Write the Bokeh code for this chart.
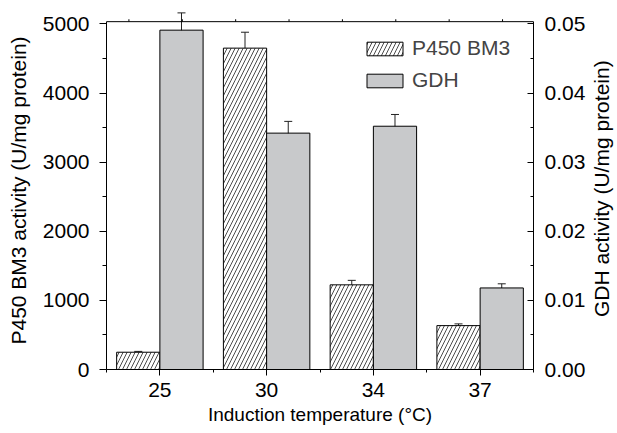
import math
import numpy as np
from bokeh.plotting import figure
from bokeh.layouts import row
from bokeh.models import (Range1d, LinearAxis, FixedTicker, Whisker, TeeHead,
                          ColumnDataSource, Legend, LegendItem, NumeralTickFormatter,
                          Span)
from bokeh.core.properties import value
from bokeh.embed import file_html
from bokeh.resources import INLINE

# ---- data ----
temps = ["25", "30", "34", "37"]
p450 = [250, 4650, 1225, 635]
p450_err = [12, 230, 65, 25]
gdh = [0.0491, 0.0342, 0.0352, 0.0118]
gdh_err = [0.0025, 0.0017, 0.0017, 0.0006]

left_ticks = [0, 1000, 2000, 3000, 4000, 5000]
right_ticks = [0.0, 0.01, 0.02, 0.03, 0.04, 0.05]

FONT = "Liberation Sans"
FS = "21px"
bw = 0.405
x = np.arange(len(temps))

YTOP = 5033          # top of the drawn frame
YEND = 5180          # a little headroom so error caps may poke above the frame
RTOP = YTOP / 1e5
REND = YEND / 1e5

src_p = ColumnDataSource(dict(x=x - bw / 2, top=p450,
                              lo=np.array(p450) - np.array(p450_err),
                              hi=np.array(p450) + np.array(p450_err)))
src_g = ColumnDataSource(dict(x=x + bw / 2, top=gdh,
                              lo=np.array(gdh) - np.array(gdh_err),
                              hi=np.array(gdh) + np.array(gdh_err)))

p = figure(width=588, height=433, output_backend="svg", toolbar_location=None,
           x_range=Range1d(-0.5, 3.5), y_range=Range1d(0, YEND),
           min_border_left=106, min_border_right=55, min_border_top=11,
           min_border_bottom=64)
p.extra_y_ranges = {"gdh": Range1d(0, REND)}
p.grid.visible = False
p.outline_line_color = None
p.background_fill_color = "white"
p.border_fill_color = "white"

r1 = p.vbar(x="x", top="top", width=bw, bottom=0, source=src_p,
            fill_color="white", line_color="black", line_width=1,
            hatch_pattern="/", hatch_color="black", hatch_scale=8, hatch_weight=0.7)
r2 = p.vbar(x="x", top="top", width=bw, bottom=0, source=src_g, y_range_name="gdh",
            fill_color="#c8c9cb", line_color="black", line_width=1)

for src, rn in [(src_p, "default"), (src_g, "gdh")]:
    p.add_layout(Whisker(base="x", lower="lo", upper="hi", source=src, y_range_name=rn,
                         line_color="#222222", line_width=1,
                         upper_head=TeeHead(size=8, line_color="#222222", line_width=1),
                         lower_head=TeeHead(size=8, line_color="#222222", line_width=1)))

# top frame line and its small outward ticks
p.add_layout(Span(location=YTOP, dimension="width", line_color="black", line_width=1))
top_tick_x = [-0.29 + 0.5 * k for k in range(8)]
p.segment(x0=top_tick_x, x1=top_tick_x, y0=[YTOP] * 8, y1=[YTOP + 35] * 8,
          line_color="black", line_width=1)

# x axis
xa = p.xaxis[0]
xa.ticker = FixedTicker(ticks=list(x), minor_ticks=[-0.5, 0.5, 1.5, 2.5, 3.5])
xa.major_label_overrides = {int(i): t for i, t in zip(x, temps)}
xa.axis_label = "Induction temperature (°C)"
xa.major_tick_out = 6
xa.major_tick_in = 0
xa.minor_tick_out = 3
xa.minor_tick_in = 0
xa.major_label_standoff = 7
xa.axis_label_standoff = 4

# left axis
ya = p.yaxis[0]
ya.ticker = FixedTicker(ticks=left_ticks,
                        minor_ticks=[v + 500 for v in left_ticks[:-1]])
ya.bounds = (0, YTOP)
ya.axis_label = "P450 BM3 activity (U/mg protein)"
ya.major_tick_out = 7
ya.major_tick_in = 0
ya.minor_tick_out = 4
ya.minor_tick_in = 0
ya.major_label_standoff = 10
ya.axis_label_standoff = 10

# right axis
ra = LinearAxis(y_range_name="gdh",
                ticker=FixedTicker(ticks=right_ticks,
                                   minor_ticks=[v + 0.005 for v in right_ticks[:-1]]),
                formatter=NumeralTickFormatter(format="0.00"))
ra.bounds = (0, RTOP)
ra.major_tick_out = 0
ra.major_tick_in = 6
ra.minor_tick_out = 0
ra.minor_tick_in = 3
ra.major_label_standoff = 11
p.add_layout(ra, "right")

for ax in [xa, ya, ra]:
    ax.axis_label_text_font = FONT
    ax.axis_label_text_font_size = FS
    ax.axis_label_text_font_style = "normal"
    ax.axis_label_text_color = "black"
    ax.major_label_text_font = FONT
    ax.major_label_text_font_size = FS
    ax.major_label_text_color = "black"
    ax.axis_line_color = "black"
    ax.major_tick_line_color = "black"
    ax.minor_tick_line_color = "black"
xa.axis_label_text_font_size = "19px"

legend = Legend(items=[LegendItem(label="P450 BM3", renderers=[r1]),
                       LegendItem(label="GDH", renderers=[r2])],
                location=(256, 277), glyph_width=45, glyph_height=17,
                label_text_font=FONT, label_text_font_size=FS,
                label_standoff=5, spacing=8, padding=0, margin=0,
                border_line_color=None, background_fill_alpha=0)
p.add_layout(legend, "center")

# narrow strip on the right holding the GDH axis title, reading bottom-to-top
t = figure(width=29, height=433, output_backend="svg", toolbar_location=None,
           x_range=Range1d(0, 1), y_range=Range1d(0, 1),
           x_axis_location=None, y_axis_location=None,
           min_border=0, min_border_left=0, min_border_right=0,
           min_border_top=0, min_border_bottom=0)
t.grid.visible = False
t.outline_line_color = None
t.background_fill_color = "white"
t.border_fill_color = "white"
t.text(x=[0.45], y=[0.505], text=["GDH activity (U/mg protein)"], angle=math.pi / 2,
       text_align="center", text_baseline="middle", text_font=value(FONT),
       text_font_size=value(FS), text_color="black")

layout = row(p, t, spacing=0)
open("out.html", "w").write(file_html(layout, INLINE))
